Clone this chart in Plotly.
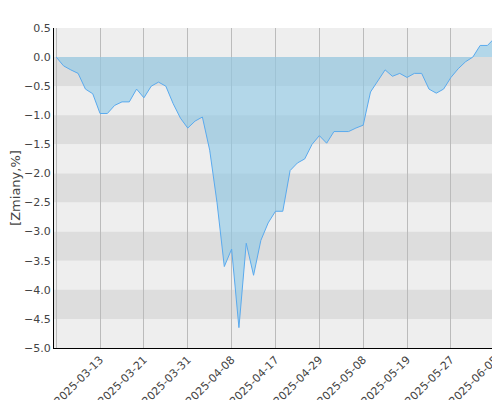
import plotly.graph_objects as go

values = [0, -0.15, -0.22, -0.28, -0.55, -0.63, -0.97, -0.97, -0.83, -0.77, -0.77, -0.55, -0.7, -0.5, -0.43,
          -0.5, -0.8, -1.05, -1.22, -1.1, -1.03, -1.6, -2.5, -3.6, -3.3, -4.65, -3.2, -3.75, -3.15, -2.85,
          -2.65, -2.65, -1.95, -1.82, -1.75, -1.5, -1.35, -1.48, -1.28, -1.28, -1.28, -1.22, -1.17, -0.6,
          -0.4, -0.22, -0.33, -0.28, -0.35, -0.28, -0.28, -0.55, -0.62, -0.55, -0.35, -0.2, -0.08, 0.0,
          0.2, 0.2, 0.33, 0.33]
tick_labels = ["2025-03-05", "2025-03-13", "2025-03-21", "2025-03-31", "2025-04-08", "2025-04-17",
               "2025-04-29", "2025-05-08", "2025-05-19", "2025-05-27", "2025-06-05"]
tick_idx = [i * 6 for i in range(len(tick_labels))]
x = list(range(len(values)))

shapes = []
for j in range(11):
    hi = 0.5 - 0.5 * j
    shapes.append(dict(type="rect", xref="paper", yref="y", x0=0, x1=1, y0=hi - 0.5, y1=hi,
                       fillcolor="#dddddd" if j % 2 == 1 else "#eeeeee", line_width=0, layer="below"))

fig = go.Figure()
fig.add_trace(go.Scatter(x=x, y=values, mode="lines", fill="tozeroy",
                         line=dict(color="#5aaaee", width=1),
                         fillcolor="rgba(140,200,230,0.6)"))
fig.update_layout(
    width=500, height=400, margin=dict(l=46, r=3, t=20, b=60),
    paper_bgcolor="white", plot_bgcolor="#eeeeee", shapes=shapes, showlegend=False,
    font=dict(family="DejaVu Sans", size=11, color="#444"),
    xaxis=dict(range=[-0.3, 61.4], tickvals=tick_idx, ticktext=tick_labels, tickangle=-45,
               showgrid=True, gridcolor="#bbbbbb", zeroline=False, showline=True,
               linecolor="black", linewidth=1, ticks="", automargin=False),
    yaxis=dict(range=[-5, 0.5], dtick=0.5, tickformat=".1f", showgrid=False, zeroline=False,
               showline=True, linecolor="black", linewidth=1, ticks="", automargin=False,
               title=dict(text="[Zmiany,%]", standoff=4)),
)
fig.write_html("out.html")
